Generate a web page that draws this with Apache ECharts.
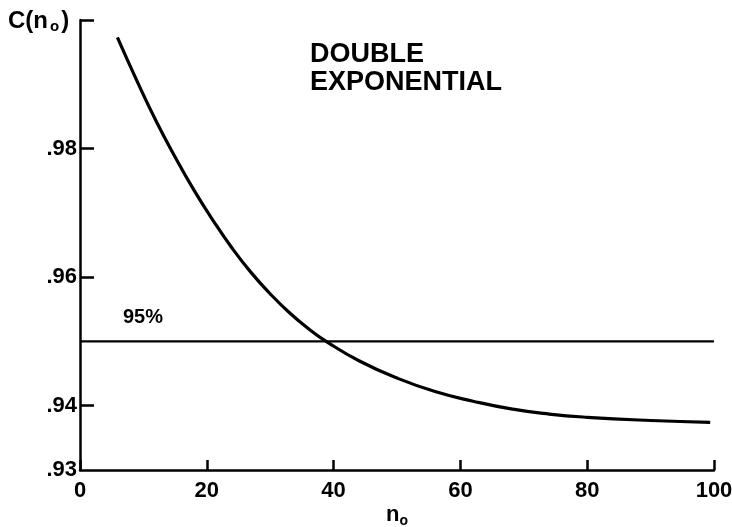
<!DOCTYPE html>
<html>
<head>
<meta charset="utf-8">
<script src="https://cdn.jsdelivr.net/npm/echarts@6/dist/echarts.min.js"></script>
<style>
  html, body { margin: 0; padding: 0; background: #fff; }
  #chart { width: 732px; height: 527px; }
</style>
</head>
<body>
<div id="chart"></div>
<script>
// Confidence C(n_o) against n_o for the double-exponential case
const nValues = [5.9, 9, 12, 15, 18, 21, 24, 27, 30, 33, 36, 39, 44, 50, 56, 62, 68, 74, 80, 90, 99.4];
const cValues = [0.9973, 0.9905, 0.9843, 0.9787, 0.9735, 0.9688, 0.9645, 0.9607, 0.9574, 0.9545, 0.9520, 0.9499, 0.9470, 0.9443, 0.9422, 0.9407, 0.9395, 0.9387, 0.9382, 0.9377, 0.9374];

// 95% reference level
const levelX = [0, 100];
const levelY = [0.95, 0.95];

const xTicks = [0, 20, 40, 60, 80, 100];
const yTickValues = [0.94, 0.96, 0.98, 1.0];
const yLabelValues = [0.93, 0.94, 0.96, 0.98];

const FONT = '"Liberation Sans", Arial, sans-serif';

const chart = echarts.init(document.getElementById('chart'));

chart.setOption({
  backgroundColor: '#ffffff',
  animation: false,
  grid: { left: 80, right: 18, top: 20, bottom: 57, containLabel: false, outerBoundsMode: 'none' },
  xAxis: {
    type: 'value',
    min: 0,
    max: 100,
    interval: 20,
    name: '{n|n}{s|o}',
    nameLocation: 'middle',
    nameGap: 32,
    nameMoveOverlap: false,
    nameTextStyle: {
      verticalAlign: 'top',
      rich: {
        n: { fontFamily: FONT, fontWeight: 'bold', fontSize: 22, color: '#000' },
        s: { fontFamily: FONT, fontWeight: 'bold', fontSize: 14, color: '#000', padding: [12, 0, 0, 0] }
      }
    },
    axisLine: { show: true, lineStyle: { color: '#000', width: 2.5 } },
    axisTick: { show: true, inside: true, length: 10, customValues: xTicks, lineStyle: { color: '#000', width: 2.5 } },
    axisLabel: {
      customValues: xTicks,
      margin: 10,
      fontFamily: FONT, fontWeight: 'bold', fontSize: 22, color: '#000'
    },
    splitLine: { show: false }
  },
  yAxis: {
    type: 'value',
    min: 0.93,
    max: 1.0,
    interval: 0.01,
    axisLine: { show: true, lineStyle: { color: '#000', width: 2.5 } },
    axisTick: { show: true, inside: true, length: 14, customValues: yTickValues, lineStyle: { color: '#000', width: 2.5 } },
    axisLabel: {
      customValues: yLabelValues,
      margin: 3,
      fontFamily: FONT, fontWeight: 'bold', fontSize: 22, color: '#000',
      formatter: function (v) { return '.' + Math.round(v * 100); }
    },
    splitLine: { show: false }
  },
  series: [
    {
      type: 'line',
      data: nValues.map((n, i) => [n, cValues[i]]),
      smooth: 0.5,
      showSymbol: false,
      lineStyle: { color: '#000', width: 3.2 }
    },
    {
      type: 'line',
      data: levelX.map((n, i) => [n, levelY[i]]),
      showSymbol: false,
      lineStyle: { color: '#000', width: 2.2 }
    }
  ],
  graphic: [
    {
      type: 'text',
      left: 8, top: 9,
      style: {
        text: '{c|C(n}{s|o}{c|)}',
        rich: {
          c: { fontFamily: FONT, fontSize: 24, fontWeight: 'bold', fill: '#000' },
          s: { fontFamily: FONT, fontSize: 15, fontWeight: 'bold', fill: '#000', padding: [11, 2, 0, 2] }
        }
      }
    },
    {
      type: 'text',
      left: 310, top: 41,
      style: {
        text: 'DOUBLE\nEXPONENTIAL',
        fontFamily: FONT, fontWeight: 'bold', fontSize: 27, lineHeight: 28, fill: '#000'
      }
    },
    {
      type: 'text',
      left: 123, top: 307,
      style: { text: '95%', fontFamily: FONT, fontWeight: 'bold', fontSize: 20, fill: '#000' }
    }
  ]
});
</script>
</body>
</html>
